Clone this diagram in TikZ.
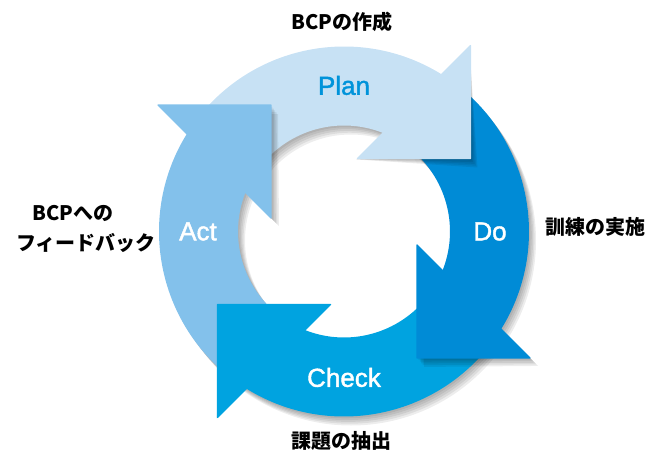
\documentclass[tikz,border=0pt]{standalone}
\usepackage{fontspec}
\setsansfont{Liberation Sans}
\newfontfamily\ringfont{Liberation Sans}[FakeBold=1.6]
\newfontfamily\jpfont{Noto Sans CJK JP}
\usetikzlibrary{calc}
\usepackage{xcolor}
\definecolor{planblue}{RGB}{199,225,244}
\definecolor{doblue}{RGB}{0,139,214}
\definecolor{checkblue}{RGB}{0,163,224}
\definecolor{actblue}{RGB}{131,193,235}
\definecolor{plantext}{RGB}{0,147,218}

\begin{document}
\begin{tikzpicture}[x=1pt, y=1pt,
        ringlabel/.style={font=\ringfont\fontsize{26}{30}\selectfont},
        sidelabel/.style={font=\jpfont\bfseries\fontsize{20}{30}\selectfont},
        shade/.style={fill=black, opacity=.07}]

        \useasboundingbox (-344,-220.5) rectangle (304,231.5);

        % soft shadow under the ring
        \foreach \s in {1,...,5} {
            \fill[shade, even odd rule] ({1.4*\s},{-1.8*\s}) circle[radius=185] ({1.4*\s},{-1.8*\s}) circle[radius=106];
        }

        % ring segments
        \foreach \col [count=\c, evaluate=\c as \rot using {90*(\c-1)}]
            in {planblue, doblue, checkblue, actblue} {
                \fill[\col] (140-\rot:185) arc[start angle=140-\rot, end angle=57.2-\rot, radius=185]
                    -- (66.8-\rot:106) arc[start angle=66.8-\rot, end angle=140-\rot, radius=106] -- cycle;

        }

        % arrow heads, each one over the tail of the next segment
        \foreach \col [count=\c, evaluate=\c as \rot using {90*(\c-1)}]
            in {planblue, doblue, checkblue, actblue} {
                \coordinate (tip\c) at (30-\rot:146);
                \coordinate (top\c) at ($(tip\c)+(90-\rot:113)$);
                \coordinate (low\c) at ($(tip\c)+(180-\rot:113)$);
                \foreach \s in {1,...,5} {
                    \coordinate (ts) at ($(top\c)+({1.4*\s},{-1.8*\s})$);
                    \coordinate (ls) at ($(low\c)+({1.4*\s},{-1.8*\s})$);
                    \fill[shade] ($(top\c)!(ts)!(low\c)$) -- ($(tip\c)+({1.4*\s},{-1.8*\s})$) -- ($(top\c)!(ls)!(low\c)$) -- cycle;
                }
                \filldraw[\col, line width=1.2pt, line join=round] (tip\c) -- (top\c) -- (low\c) -- cycle;

        }

        \foreach \lab/\tcol [count=\c, evaluate=\c as \ang using {90-90*(\c-1)}]
        in {Plan/plantext, Do/white, Check/white, Act/white} {
            \node[ringlabel, text=\tcol] (\lab) at (\ang:146) {\lab};

        }

        \node[sidelabel] (make) at (-2,209.5) {BCPの作成};
        \node[sidelabel, anchor=west] (drill) at (198,4.5) {訓練の実施};
        \node[sidelabel] (extract) at (-2,-209.5) {課題の抽出};
        \node[sidelabel] (feedback) at (-271,18) {BCPへの};
        \node[sidelabel] (feedback2) at (-258,-11.5) {フィードバック};

    \end{tikzpicture}
\end{document}
